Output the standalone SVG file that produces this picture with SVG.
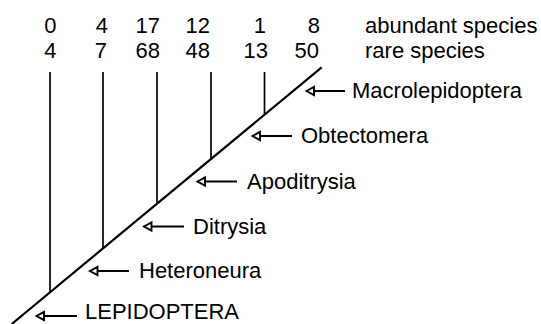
<svg xmlns="http://www.w3.org/2000/svg" width="541" height="324" viewBox="0 0 541 324">
<defs>
<style>
text{font-family:"Liberation Sans",Arial,sans-serif;font-size:22px;fill:#000}
.num{text-anchor:end}
.ln{stroke:#000;stroke-width:1.7;fill:none}
.diag{stroke:#000;stroke-width:2.2;fill:none}
.arr{stroke:#000;stroke-width:1.9;fill:none;marker-start:url(#oh)}
</style>
<marker id="oh" viewBox="-2 -7 14 14" markerWidth="14" markerHeight="14" refX="0" refY="0" orient="auto" markerUnits="userSpaceOnUse">
<path d="M0.5,0 L8,-4.2 L8,4.2 Z" fill="#fff" stroke="#000" stroke-width="1.9" stroke-linejoin="miter"/>
</marker>
</defs>
<rect width="541" height="324" fill="#fff"/>
<g id="header">
<text class="num" x="56.5" y="33">0</text>
<text class="num" x="108" y="33">4</text>
<text class="num" x="160" y="33">17</text>
<text class="num" x="210" y="33">12</text>
<text class="num" x="266" y="33">1</text>
<text class="num" x="320" y="33">8</text>
<text x="365" y="33">abundant species</text>
<text class="num" x="56.5" y="58">4</text>
<text class="num" x="107" y="58">7</text>
<text class="num" x="160" y="58">68</text>
<text class="num" x="210" y="58">48</text>
<text class="num" x="268" y="58">13</text>
<text class="num" x="319" y="58">50</text>
<text x="365" y="58">rare species</text>
</g>
<g id="connectors">
<line class="diag" x1="11.7" y1="324" x2="321.7" y2="67.3"/>
<line class="ln" x1="50" y1="72" x2="50" y2="291.7"/>
<line class="ln" x1="103" y1="72" x2="103" y2="247.9"/>
<line class="ln" x1="157" y1="72" x2="157" y2="203.3"/>
<line class="ln" x1="211" y1="72" x2="211" y2="158.7"/>
<line class="ln" x1="264.5" y1="72" x2="264.5" y2="114.5"/>
<line class="arr" x1="306" y1="91" x2="345" y2="91"/>
<line class="arr" x1="252" y1="136" x2="292" y2="136"/>
<line class="arr" x1="197" y1="181.5" x2="237" y2="181.5"/>
<line class="arr" x1="143.5" y1="226.5" x2="184" y2="226.5"/>
<line class="arr" x1="89.5" y1="271" x2="129" y2="271"/>
<line class="arr" x1="36" y1="316" x2="77" y2="316"/>
</g>
<g id="macrolepidoptera"><text x="352" y="98">Macrolepidoptera</text></g>
<g id="obtectomera"><text x="301" y="143">Obtectomera</text></g>
<g id="apoditrysia"><text x="247" y="188.5">Apoditrysia</text></g>
<g id="ditrysia"><text x="193" y="233.5">Ditrysia</text></g>
<g id="heteroneura"><text x="139" y="278">Heteroneura</text></g>
<g id="lepidoptera"><text x="85" y="319">LEPIDOPTERA</text></g>
</svg>
